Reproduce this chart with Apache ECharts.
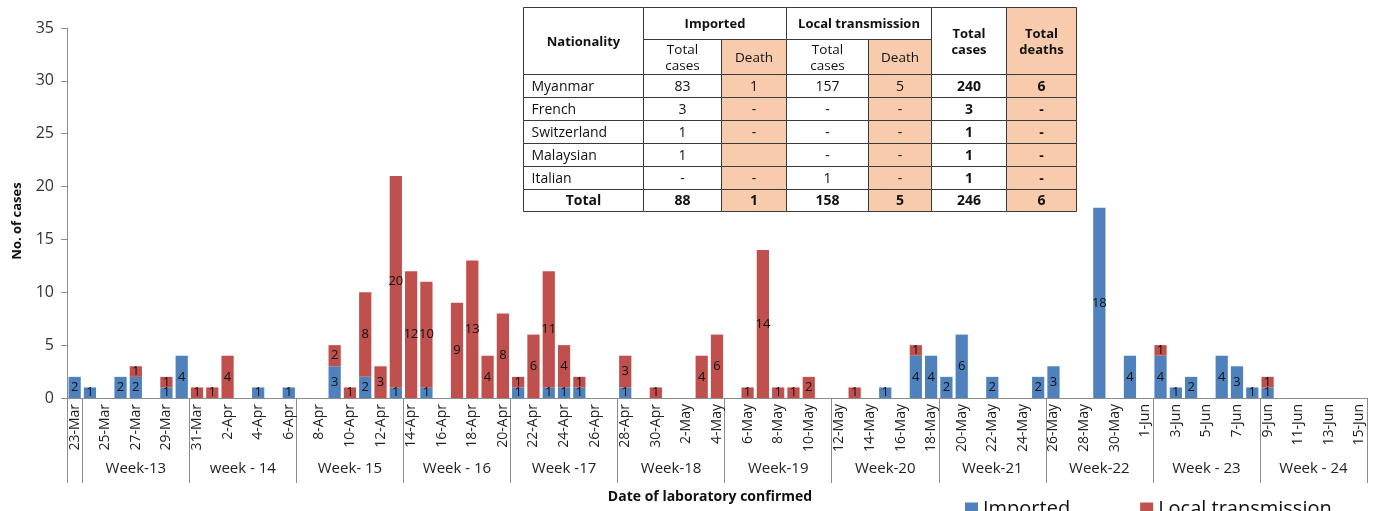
<!DOCTYPE html>
<html><head><meta charset="utf-8">
<script src="https://cdn.jsdelivr.net/npm/echarts@6/dist/echarts.min.js"></script>
<style>html,body{margin:0;padding:0;background:#fff}#c{width:1376px;height:511px}</style>
</head><body><div id="c"></div>
<script>
const dates = ["23-Mar","24-Mar","25-Mar","26-Mar","27-Mar","28-Mar","29-Mar","30-Mar","31-Mar",
"1-Apr","2-Apr","3-Apr","4-Apr","5-Apr","6-Apr","7-Apr","8-Apr","9-Apr","10-Apr","11-Apr","12-Apr","13-Apr","14-Apr","15-Apr","16-Apr","17-Apr","18-Apr","19-Apr","20-Apr","21-Apr","22-Apr","23-Apr","24-Apr","25-Apr","26-Apr","27-Apr","28-Apr","29-Apr","30-Apr",
"1-May","2-May","3-May","4-May","5-May","6-May","7-May","8-May","9-May","10-May","11-May","12-May","13-May","14-May","15-May","16-May","17-May","18-May","19-May","20-May","21-May","22-May","23-May","24-May","25-May","26-May","27-May","28-May","29-May","30-May","31-May",
"1-Jun","2-Jun","3-Jun","4-Jun","5-Jun","6-Jun","7-Jun","8-Jun","9-Jun","10-Jun","11-Jun","12-Jun","13-Jun","14-Jun","15-Jun"];

const imported = [2,1,0,2,2,0,1,4,0,
0,0,0,1,0,1,0,0,3,0,2,0,1,0,1,0,0,0,0,0,1,0,1,1,1,0,0,1,0,0,
0,0,0,0,0,0,0,0,0,0,0,0,0,0,1,0,4,4,2,6,0,2,0,0,2,3,0,0,18,0,4,
0,4,1,2,0,4,3,1,1,0,0,0,0,0,0];

const localTransmission = [0,0,0,0,1,0,1,0,1,
1,4,0,0,0,0,0,0,2,1,8,3,20,12,10,0,9,13,4,8,1,6,11,4,1,0,0,3,0,1,
0,0,4,6,0,1,14,1,1,2,0,0,1,0,0,0,1,0,0,0,0,0,0,0,0,0,0,0,0,0,0,
0,1,0,0,0,0,0,0,1,0,0,0,0,0,0];

const weekNames = ["", "Week-13", "week - 14", "Week- 15", "Week - 16", "Week -17", "Week-18", "Week-19", "Week-20", "Week-21", "Week-22", "Week - 23", "Week - 24"];
const weekStarts = ["23-Mar","24-Mar","31-Mar","7-Apr","14-Apr","21-Apr","28-Apr","5-May","12-May","19-May","26-May","2-Jun","9-Jun"];

const yTicks = [0, 5, 10, 15, 20, 25, 30, 35];

// summary table
const tableNationality = ["Myanmar","French","Switzerland","Malaysian","Italian","Total"];
const tableImpCases = ["83","3","1","1","-","88"];
const tableImpDeath = ["1","-","-","","-","1"];
const tableLocCases = ["157","-","-","-","1","158"];
const tableLocDeath = ["5","-","-","-","-","5"];
const tableTotCases = ["240","3","1","1","1","246"];
const tableTotDeaths = ["6","-","-","-","-","6"];

const BLUE = '#4F81BD', RED = '#C0504D', PEACH = '#F8CBAD', GRID = '#8c8c8c';
const FONT = '"Open Sans", sans-serif';

const startIdx = weekStarts.map(d => dates.indexOf(d));
const centerLabel = {};
startIdx.forEach((s, k) => {
  const e = k + 1 < startIdx.length ? startIdx[k + 1] : dates.length;
  centerLabel[s + Math.floor((e - s) / 2)] = weekNames[k];
});

// table graphic
const colX = [523, 643, 721, 786, 868, 931, 1006, 1076];
const rowY = [7, 39, 74, 97, 120, 143, 166, 189, 211];
const tableEls = [];
function cell(c0, c1, r0, r1, fill, text, bold, left, fs) {
  const x = colX[c0] + 0.5, y = rowY[r0] + 0.5, w = colX[c1] - colX[c0], h = rowY[r1] - rowY[r0];
  tableEls.push({type: 'rect', shape: {x, y, width: w, height: h}, style: {fill, stroke: '#3a3a3a', lineWidth: 1}, z: 100});
  if (text) {
    tableEls.push({type: 'text', z: 101, style: {
      text, x: left ? x + 8 : x + w / 2, y: y + h / 2 + 1,
      textAlign: left ? 'left' : 'center', textVerticalAlign: 'middle',
      font: (bold ? 'bold ' : '') + (fs || 14) + 'px ' + FONT, fill: '#111', lineHeight: 16
    }});
  }
}
cell(0, 1, 0, 2, '#fff', 'Nationality', true, false, 13);
cell(1, 3, 0, 1, '#fff', 'Imported', true, false, 13);
cell(3, 5, 0, 1, '#fff', 'Local transmission', true, false, 13);
cell(5, 6, 0, 2, '#fff', 'Total\ncases', true, false, 13);
cell(6, 7, 0, 2, PEACH, 'Total\ndeaths', true, false, 13);
cell(1, 2, 1, 2, '#fff', 'Total\ncases', false, false, 13.5);
cell(2, 3, 1, 2, PEACH, 'Death', false, false, 13.5);
cell(3, 4, 1, 2, '#fff', 'Total\ncases', false, false, 13.5);
cell(4, 5, 1, 2, PEACH, 'Death', false, false, 13.5);
tableNationality.forEach((n, i) => {
  const r = i + 2, isTot = i === tableNationality.length - 1;
  cell(0, 1, r, r + 1, '#fff', n, isTot, !isTot);
  cell(1, 2, r, r + 1, '#fff', tableImpCases[i], isTot);
  cell(2, 3, r, r + 1, PEACH, tableImpDeath[i], isTot);
  cell(3, 4, r, r + 1, '#fff', tableLocCases[i], isTot);
  cell(4, 5, r, r + 1, PEACH, tableLocDeath[i], isTot);
  cell(5, 6, r, r + 1, '#fff', tableTotCases[i], true);
  cell(6, 7, r, r + 1, PEACH, tableTotDeaths[i], true);
});

const chart = echarts.init(document.getElementById('c'));
const labelOpt = {show: true, position: 'inside', color: '#111', fontSize: 13, fontFamily: FONT,
  formatter: p => p.value ? String(p.value) : ''};
chart.setOption({
  animation: false,
  textStyle: {fontFamily: FONT},
  grid: {left: 67, right: 9, top: 28, bottom: 113, containLabel: false, outerBoundsMode: 'none'},
  legend: {data: ['Imported', 'Local transmission'], left: 960, top: 494, icon: 'rect',
    itemWidth: 13, itemHeight: 13, itemGap: 70, textStyle: {fontSize: 20, color: '#111', fontFamily: FONT}},
  xAxis: [{
    type: 'category', data: dates, position: 'bottom',
    axisLine: {show: true, lineStyle: {color: GRID, width: 1}},
    axisTick: {show: true, length: 85, interval: (i) => startIdx.includes(i), lineStyle: {color: GRID}},
    axisLabel: {interval: 1, rotate: 90, fontSize: 14, color: '#222', margin: 6}
  }, {
    type: 'category', data: dates, position: 'bottom', gridIndex: 0,
    axisLine: {show: false}, axisTick: {show: false},
    axisLabel: {interval: (i) => centerLabel[i] !== undefined && centerLabel[i] !== '', margin: 63,
      fontSize: 15, color: '#222', formatter: (v, i) => centerLabel[i] || ''}
  }],
  yAxis: {
    type: 'value', min: yTicks[0], max: yTicks[yTicks.length - 1], interval: 5,
    axisLine: {show: true, lineStyle: {color: GRID}},
    axisTick: {show: true, length: 6, lineStyle: {color: GRID}},
    splitLine: {show: false},
    axisLabel: {fontSize: 16, color: '#333', margin: 13}
  },
  series: [
    {name: 'Imported', type: 'bar', stack: 'a', data: imported, barCategoryGap: '20%',
      itemStyle: {color: BLUE}, label: labelOpt},
    {name: 'Local transmission', type: 'bar', stack: 'a', data: localTransmission, barCategoryGap: '20%',
      itemStyle: {color: RED}, label: labelOpt}
  ],
  graphic: [
    {type: 'group', children: tableEls},
    {type: 'text', style: {text: 'Date of laboratory confirmed', x: 710, y: 497, textAlign: 'center', textVerticalAlign: 'middle',
      font: 'bold 14px ' + FONT, fill: '#111'}},
    {type: 'text', x: 17, y: 221, rotation: Math.PI / 2, style: {text: 'No. of cases', x: 0, y: 0, textAlign: 'center', textVerticalAlign: 'middle',
      font: 'bold 13px ' + FONT, fill: '#111'}}
  ]
});
</script></body></html>
